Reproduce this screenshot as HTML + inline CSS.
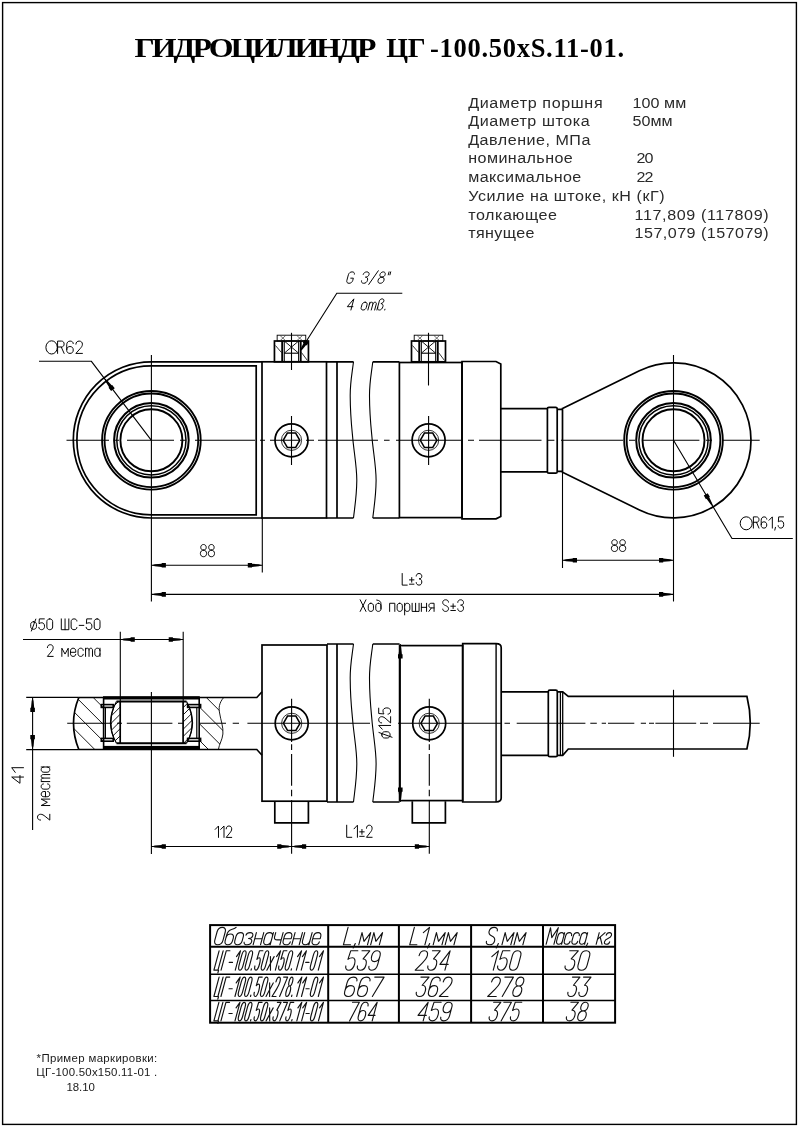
<!DOCTYPE html>
<html><head><meta charset="utf-8"><title>ГИДРОЦИЛИНДР ЦГ-100.50xS.11-01</title>
<style>
html,body{margin:0;padding:0;background:#fff;}
body{width:798px;height:1127px;position:relative;overflow:hidden;font-family:"Liberation Sans",sans-serif;}
svg{position:absolute;left:0;top:0;filter:grayscale(1);}
.tt{font-family:"Liberation Serif",serif;font-weight:bold;font-size:26.5px;fill:#000;}
.sp{font-family:"Liberation Sans",sans-serif;font-size:15.2px;fill:#2a2a2a;}
.ft{font-family:"Liberation Sans",sans-serif;font-size:10.4px;fill:#1a1a1a;}
</style></head><body>
<svg width="798" height="1127" viewBox="0 0 798 1127">
<rect x="0" y="0" width="798" height="1127" fill="#fff"/>
<rect x="2.60" y="2.60" width="793.80" height="1121.80" fill="none" stroke="#000" stroke-width="1.4"/>
<path d="M262,361.8 H151.4 A78.1,78.1 0 0 0 151.4,518.0 H262" fill="none" stroke="#000" stroke-width="1.7" stroke-linejoin="miter"/>
<path d="M256.2,365.8 H151.4 A74.5,74.5 0 0 0 151.4,514.8 H256.2 Z" fill="none" stroke="#000" stroke-width="1.7" stroke-linejoin="miter"/>
<circle cx="151.40" cy="440.30" r="49.30" fill="none" stroke="#000" stroke-width="1.9"/>
<circle cx="151.40" cy="440.30" r="46.80" fill="none" stroke="#000" stroke-width="1.8"/>
<circle cx="151.40" cy="440.30" r="37.30" fill="none" stroke="#000" stroke-width="2.0"/>
<circle cx="151.40" cy="440.30" r="34.60" fill="none" stroke="#000" stroke-width="1.5"/>
<circle cx="151.40" cy="440.30" r="31.00" fill="none" stroke="#000" stroke-width="1.9"/>
<circle cx="673.50" cy="440.30" r="49.30" fill="none" stroke="#000" stroke-width="1.9"/>
<circle cx="673.50" cy="440.30" r="46.80" fill="none" stroke="#000" stroke-width="1.8"/>
<circle cx="673.50" cy="440.30" r="37.30" fill="none" stroke="#000" stroke-width="2.0"/>
<circle cx="673.50" cy="440.30" r="34.60" fill="none" stroke="#000" stroke-width="1.5"/>
<circle cx="673.50" cy="440.30" r="31.00" fill="none" stroke="#000" stroke-width="1.9"/>
<rect x="262.00" y="361.80" width="64.50" height="156.20" fill="none" stroke="#000" stroke-width="1.7"/>
<path d="M326.5,361.8 H353.5 M326.5,518.0 H353.5 M337,361.8 V518.0" fill="none" stroke="#000" stroke-width="1.7" stroke-linejoin="miter"/>
<path d="M353.5,361.8 C352.0,374.296 350.1,382.106 350.2,396.164 C350.3,418.032 352.3,432.09000000000003 352.9,439.9 C354.5,455.52 356.9,468.016 356.8,480.512 C356.7,496.132 354.5,508.628 353.5,518.0" fill="none" stroke="#000" stroke-width="1.1" stroke-linejoin="miter"/>
<path d="M372.8,361.8 C371.3,374.296 369.40000000000003,382.106 369.5,396.164 C369.6,418.032 371.6,432.09000000000003 372.2,439.9 C373.8,455.52 376.2,468.016 376.1,480.512 C376.0,496.132 373.8,508.628 372.8,518.0" fill="none" stroke="#000" stroke-width="1.1" stroke-linejoin="miter"/>
<path d="M372.8,361.8 H399.4 M372.8,518.0 H399.4" fill="none" stroke="#000" stroke-width="1.7" stroke-linejoin="miter"/>
<rect x="399.40" y="362.50" width="62.60" height="155.10" fill="none" stroke="#000" stroke-width="1.7"/>
<path d="M462,361.5 H496 L500.8,364 V516.4 L496,518.8 H462 Z" fill="none" stroke="#000" stroke-width="1.7" stroke-linejoin="miter"/>
<path d="M500.8,408.7 H547.4 M500.8,471.9 H547.4" fill="none" stroke="#000" stroke-width="1.7" stroke-linejoin="miter"/>
<path d="M547.4,408.8 Q547.4,407.3 548.9,407.3 H555.7 Q557.2,407.3 557.2,408.8 V471.7 Q557.2,473.2 555.7,473.2 H548.9 Q547.4,473.2 547.4,471.7 Z" fill="none" stroke="#000" stroke-width="1.7" stroke-linejoin="miter"/>
<path d="M557.2,409.4 H562.5 M557.2,471.3 H562.5" fill="none" stroke="#000" stroke-width="1.7" stroke-linejoin="miter"/>
<path d="M562.5,408.4 L639.39,370.71 A77.5,77.5 0 1 1 639.46,509.93 L562.5,472.3 Z" fill="none" stroke="#000" stroke-width="1.7" stroke-linejoin="miter"/>
<rect x="274.45" y="341.00" width="34.00" height="20.80" fill="none" stroke="#000" stroke-width="1.7"/>
<rect x="277.15" y="335.20" width="28.60" height="5.80" fill="none" stroke="#000" stroke-width="0.9"/>
<line x1="282.15" y1="341.00" x2="282.15" y2="361.80" stroke="#000" stroke-width="1.8" stroke-linecap="butt"/>
<line x1="300.75" y1="341.00" x2="300.75" y2="361.80" stroke="#000" stroke-width="1.8" stroke-linecap="butt"/>
<line x1="284.25" y1="341.00" x2="284.25" y2="361.80" stroke="#000" stroke-width="1.1" stroke-linecap="butt"/>
<line x1="298.65" y1="341.00" x2="298.65" y2="361.80" stroke="#000" stroke-width="1.1" stroke-linecap="butt"/>
<line x1="284.25" y1="353.20" x2="298.65" y2="353.20" stroke="#000" stroke-width="1.1" stroke-linecap="butt"/>
<path d="M284.25,341 L298.65,353.2 M298.65,341 L284.25,353.2" fill="none" stroke="#000" stroke-width="0.9" stroke-linejoin="miter"/>
<path d="M280.15,335.6 L285.54999999999995,340.6 M285.54999999999995,335.6 L280.15,340.6" fill="none" stroke="#333" stroke-width="0.7" stroke-linejoin="miter"/>
<path d="M296.95,335.6 L302.34999999999997,340.6 M302.34999999999997,335.6 L296.95,340.6" fill="none" stroke="#333" stroke-width="0.7" stroke-linejoin="miter"/>
<path d="M275.45,345.5 L281.45,352.5 M301.45,352.5 L307.45,360.5" fill="none" stroke="#000" stroke-width="0.8" stroke-linejoin="miter"/>
<rect x="411.50" y="341.00" width="34.00" height="20.80" fill="none" stroke="#000" stroke-width="1.7"/>
<rect x="414.20" y="335.20" width="28.60" height="5.80" fill="none" stroke="#000" stroke-width="0.9"/>
<line x1="419.20" y1="341.00" x2="419.20" y2="361.80" stroke="#000" stroke-width="1.8" stroke-linecap="butt"/>
<line x1="437.80" y1="341.00" x2="437.80" y2="361.80" stroke="#000" stroke-width="1.8" stroke-linecap="butt"/>
<line x1="421.30" y1="341.00" x2="421.30" y2="361.80" stroke="#000" stroke-width="1.1" stroke-linecap="butt"/>
<line x1="435.70" y1="341.00" x2="435.70" y2="361.80" stroke="#000" stroke-width="1.1" stroke-linecap="butt"/>
<line x1="421.30" y1="353.20" x2="435.70" y2="353.20" stroke="#000" stroke-width="1.1" stroke-linecap="butt"/>
<path d="M421.3,341 L435.7,353.2 M435.7,341 L421.3,353.2" fill="none" stroke="#000" stroke-width="0.9" stroke-linejoin="miter"/>
<path d="M417.2,335.6 L422.59999999999997,340.6 M422.59999999999997,335.6 L417.2,340.6" fill="none" stroke="#333" stroke-width="0.7" stroke-linejoin="miter"/>
<path d="M434.0,335.6 L439.4,340.6 M439.4,335.6 L434.0,340.6" fill="none" stroke="#333" stroke-width="0.7" stroke-linejoin="miter"/>
<path d="M412.5,345.5 L418.5,352.5 M438.5,352.5 L444.5,360.5" fill="none" stroke="#000" stroke-width="0.8" stroke-linejoin="miter"/>
<circle cx="291.50" cy="440.30" r="16.50" fill="none" stroke="#000" stroke-width="1.7"/>
<circle cx="291.50" cy="440.30" r="10.10" fill="none" stroke="#000" stroke-width="0.8"/>
<polygon points="299.80,440.30 295.65,447.49 287.35,447.49 283.20,440.30 287.35,433.11 295.65,433.11" fill="none" stroke="#000" stroke-width="1.5"/>
<circle cx="428.60" cy="440.30" r="16.50" fill="none" stroke="#000" stroke-width="1.7"/>
<circle cx="428.60" cy="440.30" r="10.10" fill="none" stroke="#000" stroke-width="0.8"/>
<polygon points="436.90,440.30 432.75,447.49 424.45,447.49 420.30,440.30 424.45,433.11 432.75,433.11" fill="none" stroke="#000" stroke-width="1.5"/>
<line x1="291.50" y1="416.00" x2="291.50" y2="465.00" stroke="#000" stroke-width="1.1" stroke-linecap="butt"/>
<line x1="428.60" y1="416.00" x2="428.60" y2="465.00" stroke="#000" stroke-width="1.1" stroke-linecap="butt"/>
<line x1="291.50" y1="332.80" x2="291.50" y2="370.00" stroke="#000" stroke-width="1.1" stroke-linecap="butt"/>
<line x1="428.50" y1="332.80" x2="428.50" y2="385.50" stroke="#000" stroke-width="1.1" stroke-linecap="butt"/>
<path d="M66.5,440.3 H109 M114,440.3 H119 M127,440.3 H174 M180,440.3 H186 M195,440.3 H255 M260,440.3 H265 M270,440.3 H300 M306,440.3 H314 M318,440.3 H378 M384,440.3 H389.6 M396,440.3 H461 M468,440.3 H474 M479,440.3 H541.5 M548,440.3 H554.4 M561,440.3 H623 M629,440.3 H635 M642.4,440.3 H699.4 M706,440.3 H712 M722,440.3 H759.7" fill="none" stroke="#000" stroke-width="1.1" stroke-linejoin="miter"/>
<line x1="151.40" y1="355.00" x2="151.40" y2="601.50" stroke="#000" stroke-width="1.1" stroke-linecap="butt"/>
<line x1="673.50" y1="355.00" x2="673.50" y2="601.50" stroke="#000" stroke-width="1.1" stroke-linecap="butt"/>
<path d="M39,361.3 H91.4 L151.4,440.3" fill="none" stroke="#000" stroke-width="1.1" stroke-linejoin="miter"/>
<polygon points="104.47,378.50 107.04,380.32 111.67,385.34 112.22,384.92 114.76,388.26 111.10,391.04 108.56,387.70 109.12,387.27 105.52,381.47" fill="#000"/>
<ellipse cx="51.6" cy="347.4" rx="5.7" ry="6.6" fill="none" stroke="#000" stroke-width="1"/>
<g transform="translate(57.59,353.41) rotate(0) translate(0.00,0) scale(1.3063,1.2320) translate(0,-10)" fill="none" stroke="#000" stroke-width="0.98" stroke-linecap="round" stroke-linejoin="round" style="vector-effect:non-scaling-stroke"><path vector-effect="non-scaling-stroke" transform="translate(0.000,0)" d="M0,10 V0 H3 C4.2,0 5,1 5,2.4 C5,3.8 4.2,4.8 3,4.8 H0 M2.8,4.8 L5,10"/><path vector-effect="non-scaling-stroke" transform="translate(7.000,0)" d="M5,2 C5,0.8 4,0 2.6,0 C1,0 0,1.2 0,3 V7.5 C0,9 1,10 2.5,10 C4,10 5,9 5,7.2 C5,5.4 4,4.4 2.5,4.4 C1,4.4 0,5.4 0,7"/><path vector-effect="non-scaling-stroke" transform="translate(14.000,0)" d="M0,2.5 C0,1 1,0 2.5,0 C4,0 5,1 5,2.5 C5,4 4.2,5 3.2,6.2 L0,10 H5"/></g>
<path d="M792.8,538.5 H732 L673.5,440.3" fill="none" stroke="#000" stroke-width="1.1" stroke-linejoin="miter"/>
<polygon points="712.91,506.45 710.56,504.36 706.52,498.85 705.92,499.21 703.77,495.60 707.72,493.25 709.87,496.86 709.27,497.21 712.19,503.39" fill="#000"/>
<ellipse cx="746.2" cy="523.3" rx="6.0" ry="6.5" fill="none" stroke="#000" stroke-width="1"/>
<g transform="translate(753.39,528.11) rotate(0) translate(0.00,0) scale(1.1147,1.1220) translate(0,-10)" fill="none" stroke="#000" stroke-width="0.98" stroke-linecap="round" stroke-linejoin="round" style="vector-effect:non-scaling-stroke"><path vector-effect="non-scaling-stroke" transform="translate(0.000,0)" d="M0,10 V0 H3 C4.2,0 5,1 5,2.4 C5,3.8 4.2,4.8 3,4.8 H0 M2.8,4.8 L5,10"/><path vector-effect="non-scaling-stroke" transform="translate(7.000,0)" d="M5,2 C5,0.8 4,0 2.6,0 C1,0 0,1.2 0,3 V7.5 C0,9 1,10 2.5,10 C4,10 5,9 5,7.2 C5,5.4 4,4.4 2.5,4.4 C1,4.4 0,5.4 0,7"/><path vector-effect="non-scaling-stroke" transform="translate(14.000,0)" d="M0,3 L3,0 V10"/><path vector-effect="non-scaling-stroke" transform="translate(19.000,0)" d="M0.8,9.3 L0.2,11.8"/><path vector-effect="non-scaling-stroke" transform="translate(22.200,0)" d="M4.8,0 H0.5 L0.2,4.4 C1,3.8 1.8,3.6 2.7,3.6 C4,3.6 5,4.8 5,6.8 C5,8.8 4,10 2.5,10 C1,10 0,9 0,7.8"/></g>
<path d="M402.3,293.3 H336.8 L304.4,344.2" fill="none" stroke="#000" stroke-width="1.1" stroke-linejoin="miter"/>
<polygon points="300.23,351.24 300.82,348.55 303.43,343.25 302.75,342.82 304.70,339.77 308.75,342.35 306.80,345.41 306.13,344.98 302.42,349.57" fill="#000"/>
<g transform="translate(346.09,283.31) rotate(0) translate(0.00,0) skewX(-15) scale(1.1770,1.1420) translate(0,-10)" fill="none" stroke="#000" stroke-width="0.98" stroke-linecap="round" stroke-linejoin="round" style="vector-effect:non-scaling-stroke"><path vector-effect="non-scaling-stroke" transform="translate(0.000,0)" d="M5,2 C5,0.8 4,0 2.5,0 C1,0 0,1 0,2.5 V7.5 C0,9 1,10 2.5,10 C4,10 5,9 5,7.5 V5.5 H2.8"/><path vector-effect="non-scaling-stroke" transform="translate(12.500,0)" d="M0,2.2 C0,1 1,0 2.5,0 C4,0 5,1 5,2.4 C5,3.8 4,4.6 2.5,4.6 C4,4.6 5,5.6 5,7.3 C5,9 4,10 2.5,10 C1,10 0,9 0,7.8"/><path vector-effect="non-scaling-stroke" transform="translate(19.500,0)" d="M0,11 L5,-1"/><path vector-effect="non-scaling-stroke" transform="translate(26.500,0)" d="M2.5,4.6 C1,4.6 0.3,3.6 0.3,2.3 C0.3,1 1.2,0 2.5,0 C3.8,0 4.7,1 4.7,2.3 C4.7,3.6 4,4.6 2.5,4.6 C4,4.6 5,5.8 5,7.3 C5,9 4,10 2.5,10 C1,10 0,9 0,7.3 C0,5.8 1,4.6 2.5,4.6 Z"/><path vector-effect="non-scaling-stroke" transform="translate(33.500,0)" d="M0.4,0 V2.6 M1.8,0 V2.6"/></g>
<g transform="translate(346.39,310.01) rotate(0) translate(0.00,0) skewX(-15) scale(1.1308,1.1120) translate(0,-10)" fill="none" stroke="#000" stroke-width="0.98" stroke-linecap="round" stroke-linejoin="round" style="vector-effect:non-scaling-stroke"><path vector-effect="non-scaling-stroke" transform="translate(0.000,0)" d="M4,10 V0 L0,7 H5"/><path vector-effect="non-scaling-stroke" transform="translate(12.500,0)" d="M2.25,3 C3.6,3 4.5,3.9 4.5,5.2 V7.8 C4.5,9.1 3.6,10 2.25,10 C0.9,10 0,9.1 0,7.8 V5.2 C0,3.9 0.9,3 2.25,3 Z"/><path vector-effect="non-scaling-stroke" transform="translate(19.000,0)" d="M0,10 V3 M0,4.6 C0,3.6 0.6,3 1.5,3 C2.4,3 3,3.6 3,4.6 V10 M3,4.6 C3,3.6 3.6,3 4.5,3 C5.4,3 6,3.6 6,4.6 V10"/><path vector-effect="non-scaling-stroke" transform="translate(27.000,0)" d="M0,10 V2 C0,0.8 0.8,0 2,0 C3.2,0 4,0.8 4,2 C4,3.2 3.2,4 2,4.2 C3.5,4.4 4.5,5.4 4.5,7 C4.5,8.8 3.6,10 2.25,10 C0.9,10 0,9 0,7.5"/><path vector-effect="non-scaling-stroke" transform="translate(33.500,0)" d="M0.4,9.3 V10"/></g>
<line x1="262.30" y1="518.00" x2="262.30" y2="572.60" stroke="#000" stroke-width="1.1" stroke-linecap="butt"/>
<line x1="562.50" y1="472.30" x2="562.50" y2="568.00" stroke="#000" stroke-width="1.1" stroke-linecap="butt"/>
<line x1="151.40" y1="565.30" x2="262.30" y2="565.30" stroke="#000" stroke-width="1.1" stroke-linecap="butt"/>
<polygon points="151.90,565.30 154.90,564.35 161.70,563.70 161.70,563.00 165.90,563.00 165.90,567.60 161.70,567.60 161.70,566.90 154.90,566.25" fill="#000"/>
<polygon points="261.80,565.30 258.80,566.25 252.00,566.90 252.00,567.60 247.80,567.60 247.80,563.00 252.00,563.00 252.00,563.70 258.80,564.35" fill="#000"/>
<g transform="translate(200.39,556.71) rotate(0) translate(0.00,0) scale(1.2386,1.2220) translate(0,-10)" fill="none" stroke="#000" stroke-width="0.98" stroke-linecap="round" stroke-linejoin="round" style="vector-effect:non-scaling-stroke"><path vector-effect="non-scaling-stroke" transform="translate(0.000,0)" d="M2.5,4.6 C1,4.6 0.3,3.6 0.3,2.3 C0.3,1 1.2,0 2.5,0 C3.8,0 4.7,1 4.7,2.3 C4.7,3.6 4,4.6 2.5,4.6 C4,4.6 5,5.8 5,7.3 C5,9 4,10 2.5,10 C1,10 0,9 0,7.3 C0,5.8 1,4.6 2.5,4.6 Z"/><path vector-effect="non-scaling-stroke" transform="translate(6.400,0)" d="M2.5,4.6 C1,4.6 0.3,3.6 0.3,2.3 C0.3,1 1.2,0 2.5,0 C3.8,0 4.7,1 4.7,2.3 C4.7,3.6 4,4.6 2.5,4.6 C4,4.6 5,5.8 5,7.3 C5,9 4,10 2.5,10 C1,10 0,9 0,7.3 C0,5.8 1,4.6 2.5,4.6 Z"/></g>
<line x1="562.50" y1="560.20" x2="673.50" y2="560.20" stroke="#000" stroke-width="1.1" stroke-linecap="butt"/>
<polygon points="563.00,560.20 566.00,559.25 572.80,558.60 572.80,557.90 577.00,557.90 577.00,562.50 572.80,562.50 572.80,561.80 566.00,561.15" fill="#000"/>
<polygon points="673.00,560.20 670.00,561.15 663.20,561.80 663.20,562.50 659.00,562.50 659.00,557.90 663.20,557.90 663.20,558.60 670.00,559.25" fill="#000"/>
<g transform="translate(611.39,551.51) rotate(0) translate(0.00,0) scale(1.2561,1.1820) translate(0,-10)" fill="none" stroke="#000" stroke-width="0.98" stroke-linecap="round" stroke-linejoin="round" style="vector-effect:non-scaling-stroke"><path vector-effect="non-scaling-stroke" transform="translate(0.000,0)" d="M2.5,4.6 C1,4.6 0.3,3.6 0.3,2.3 C0.3,1 1.2,0 2.5,0 C3.8,0 4.7,1 4.7,2.3 C4.7,3.6 4,4.6 2.5,4.6 C4,4.6 5,5.8 5,7.3 C5,9 4,10 2.5,10 C1,10 0,9 0,7.3 C0,5.8 1,4.6 2.5,4.6 Z"/><path vector-effect="non-scaling-stroke" transform="translate(6.400,0)" d="M2.5,4.6 C1,4.6 0.3,3.6 0.3,2.3 C0.3,1 1.2,0 2.5,0 C3.8,0 4.7,1 4.7,2.3 C4.7,3.6 4,4.6 2.5,4.6 C4,4.6 5,5.8 5,7.3 C5,9 4,10 2.5,10 C1,10 0,9 0,7.3 C0,5.8 1,4.6 2.5,4.6 Z"/></g>
<line x1="151.40" y1="594.40" x2="673.50" y2="594.40" stroke="#000" stroke-width="1.1" stroke-linecap="butt"/>
<polygon points="151.90,594.40 154.90,593.45 161.70,592.80 161.70,592.10 165.90,592.10 165.90,596.70 161.70,596.70 161.70,596.00 154.90,595.35" fill="#000"/>
<polygon points="673.00,594.40 670.00,595.35 663.20,596.00 663.20,596.70 659.00,596.70 659.00,592.10 663.20,592.10 663.20,592.80 670.00,593.45" fill="#000"/>
<g transform="translate(402.19,585.11) rotate(0) translate(0.00,0) scale(1.1211,1.1620) translate(0,-10)" fill="none" stroke="#000" stroke-width="0.98" stroke-linecap="round" stroke-linejoin="round" style="vector-effect:non-scaling-stroke"><path vector-effect="non-scaling-stroke" transform="translate(0.000,0)" d="M0,0 V10 H4.5"/><path vector-effect="non-scaling-stroke" transform="translate(6.500,0)" d="M0,5.5 H4 M2,3.5 V7.5 M0,9.2 H4"/><path vector-effect="non-scaling-stroke" transform="translate(12.500,0)" d="M0,2.2 C0,1 1,0 2.5,0 C4,0 5,1 5,2.4 C5,3.8 4,4.6 2.5,4.6 C4,4.6 5,5.6 5,7.3 C5,9 4,10 2.5,10 C1,10 0,9 0,7.8"/></g>
<g transform="translate(360.19,611.41) rotate(0) translate(0.00,0) scale(1.1544,1.1620) translate(0,-10)" fill="none" stroke="#000" stroke-width="0.98" stroke-linecap="round" stroke-linejoin="round" style="vector-effect:non-scaling-stroke"><path vector-effect="non-scaling-stroke" transform="translate(0.000,0)" d="M0,0 L5,10 M5,0 L0,10"/><path vector-effect="non-scaling-stroke" transform="translate(7.000,0)" d="M2.25,3 C3.6,3 4.5,3.9 4.5,5.2 V7.8 C4.5,9.1 3.6,10 2.25,10 C0.9,10 0,9.1 0,7.8 V5.2 C0,3.9 0.9,3 2.25,3 Z"/><path vector-effect="non-scaling-stroke" transform="translate(13.500,0)" d="M2.25,3 C3.6,3 4.5,3.9 4.5,5.2 V7.8 C4.5,9.1 3.6,10 2.25,10 C0.9,10 0,9.1 0,7.8 V5.2 C0,3.9 0.9,3 2.25,3 Z M4.5,7.8 V3.5 C4.5,1.5 3.2,0.5 0.8,0.2"/><path vector-effect="non-scaling-stroke" transform="translate(25.500,0)" d="M0,10 V3 H4.5 V10"/><path vector-effect="non-scaling-stroke" transform="translate(32.000,0)" d="M2.25,3 C3.6,3 4.5,3.9 4.5,5.2 V7.8 C4.5,9.1 3.6,10 2.25,10 C0.9,10 0,9.1 0,7.8 V5.2 C0,3.9 0.9,3 2.25,3 Z"/><path vector-effect="non-scaling-stroke" transform="translate(38.500,0)" d="M0,13 V3 M0,5.2 C0,3.9 0.9,3 2.25,3 C3.6,3 4.5,3.9 4.5,5.2 V7.8 C4.5,9.1 3.6,10 2.25,10 C0.9,10 0,9.1 0,7.8"/><path vector-effect="non-scaling-stroke" transform="translate(45.000,0)" d="M0,3 V10 H6 V3 M3,3 V10"/><path vector-effect="non-scaling-stroke" transform="translate(53.000,0)" d="M0,3 V10 M4.5,3 V10 M0,6.5 H4.5"/><path vector-effect="non-scaling-stroke" transform="translate(59.500,0)" d="M4.5,10 V3 H2 C0.8,3 0,3.8 0,5 C0,6.2 0.8,7 2,7 H4.5 M2.2,7 L0,10"/><path vector-effect="non-scaling-stroke" transform="translate(71.500,0)" d="M5,2 C5,0.8 4,0 2.5,0 C1,0 0,0.9 0,2.3 C0,3.8 1,4.4 2.5,5 C4,5.6 5,6.3 5,7.7 C5,9.1 4,10 2.5,10 C1,10 0,9.2 0,8"/><path vector-effect="non-scaling-stroke" transform="translate(78.500,0)" d="M0,5.5 H4 M2,3.5 V7.5 M0,9.2 H4"/><path vector-effect="non-scaling-stroke" transform="translate(84.500,0)" d="M0,2.2 C0,1 1,0 2.5,0 C4,0 5,1 5,2.4 C5,3.8 4,4.6 2.5,4.6 C4,4.6 5,5.6 5,7.3 C5,9 4,10 2.5,10 C1,10 0,9 0,7.8"/></g>
<path d="M78.8,697.5 Q68.2,723.3 78.8,749.5" fill="none" stroke="#000" stroke-width="1.7" stroke-linejoin="miter"/>
<path d="M78.8,697.5 H256.8 L262,691.8 M78.8,749.5 H256.8 L262,755.2" fill="none" stroke="#000" stroke-width="1.6" stroke-linejoin="miter"/>
<rect x="103" y="696.2" width="96.8" height="3.3" fill="#000"/>
<rect x="103" y="745.9" width="96.8" height="3.4" fill="#000"/>
<line x1="103.60" y1="697.50" x2="103.60" y2="749.50" stroke="#000" stroke-width="1.6" stroke-linecap="butt"/>
<line x1="199.20" y1="697.50" x2="199.20" y2="749.50" stroke="#000" stroke-width="1.6" stroke-linecap="butt"/>
<rect x="101.30" y="704.60" width="11.90" height="2.80" fill="none" stroke="#000" stroke-width="1.6"/>
<rect x="101.30" y="738.40" width="11.90" height="2.80" fill="none" stroke="#000" stroke-width="1.6"/>
<rect x="187.60" y="704.60" width="13.00" height="2.80" fill="none" stroke="#000" stroke-width="1.6"/>
<rect x="187.60" y="738.40" width="13.00" height="2.80" fill="none" stroke="#000" stroke-width="1.6"/>
<line x1="105.40" y1="707.40" x2="105.40" y2="738.40" stroke="#000" stroke-width="1.2" stroke-linecap="butt"/>
<line x1="196.80" y1="707.40" x2="196.80" y2="738.40" stroke="#000" stroke-width="1.2" stroke-linecap="butt"/>
<path d="M116.5,701.5 H186.5 M116.5,743.3 H186.5" fill="none" stroke="#000" stroke-width="1.9" stroke-linejoin="miter"/>
<line x1="120.20" y1="701.50" x2="120.20" y2="743.30" stroke="#000" stroke-width="1.7" stroke-linecap="butt"/>
<line x1="183.10" y1="701.50" x2="183.10" y2="743.30" stroke="#000" stroke-width="1.7" stroke-linecap="butt"/>
<path d="M116.5,701.5 Q104.5,722.8 116.5,743.3" fill="none" stroke="#000" stroke-width="1.2" stroke-linejoin="miter"/>
<path d="M114.2,706 Q107.6,722.8 114.2,739.6" fill="none" stroke="#000" stroke-width="1.0" stroke-linejoin="miter"/>
<path d="M186.5,701.5 Q198.5,722.8 186.5,743.3" fill="none" stroke="#000" stroke-width="1.2" stroke-linejoin="miter"/>
<path d="M188.8,706 Q195.4,722.8 188.8,739.6" fill="none" stroke="#000" stroke-width="1.0" stroke-linejoin="miter"/>
<clipPath id="cl1"><path d="M116.5,701.5 Q104.5,722.8 116.5,743.3 H120.2 V701.5 Z"/></clipPath>
<clipPath id="cl2"><path d="M186.5,701.5 Q198.5,722.8 186.5,743.3 H183.1 V701.5 Z"/></clipPath>
<path d="M100,705.6 L125,680.6 M100,712.8 L125,687.8 M100,720.0 L125,695.0 M100,727.2 L125,702.2 M100,734.4 L125,709.4 M100,741.6 L125,716.6 M100,748.8 L125,723.8 M100,756.0 L125,731.0 M100,763.2 L125,738.2 M100,770.4 L125,745.4 M100,777.6 L125,752.6" stroke="#000" stroke-width="0.9" clip-path="url(#cl1)"/>
<path d="M178,705.6 L203,680.6 M178,712.8 L203,687.8 M178,720.0 L203,695.0 M178,727.2 L203,702.2 M178,734.4 L203,709.4 M178,741.6 L203,716.6 M178,748.8 L203,723.8 M178,756.0 L203,731.0 M178,763.2 L203,738.2 M178,770.4 L203,745.4 M178,777.6 L203,752.6" stroke="#000" stroke-width="0.9" clip-path="url(#cl2)"/>
<clipPath id="cl3"><path d="M78.8,697.5 Q68.2,723.3 78.8,749.5 H103.6 V697.5 Z"/></clipPath>
<path d="M93.2,697.5 L153.2,757.5 M76.4,697.5 L136.4,757.5 M59.6,697.5 L119.6,757.5 M42.8,697.5 L102.8,757.5 M26.0,697.5 L86.0,757.5" stroke="#000" stroke-width="0.9" clip-path="url(#cl3)"/>
<path d="M223.7,697.5 C219,703 218.6,708 219.6,713 C220.6,720 223.6,727 222.9,734 C222.3,740 219.2,744 218.4,749.5" fill="none" stroke="#000" stroke-width="0.9" stroke-linejoin="miter"/>
<clipPath id="cl4"><path d="M223.7,697.5 C219,703 218.6,708 219.6,713 C220.6,720 223.6,727 222.9,734 C222.3,740 219.2,744 218.4,749.5 H199.2 V697.5 Z"/></clipPath>
<path d="M206.3,697.5 L266.3,757.5 M189.9,697.5 L249.9,757.5 M173.2,697.5 L233.2,757.5 M156.5,697.5 L216.5,757.5" stroke="#000" stroke-width="0.9" clip-path="url(#cl4)"/>
<rect x="262.00" y="645.00" width="65.00" height="156.20" fill="none" stroke="#000" stroke-width="1.7"/>
<path d="M327,644 H353.5 M327,802 H353.5 M337,644 V802" fill="none" stroke="#000" stroke-width="1.7" stroke-linejoin="miter"/>
<path d="M353.5,644 C352.0,656.64 350.1,664.54 350.2,678.76 C350.3,700.88 352.3,715.1 352.9,723.0 C354.5,738.8 356.9,751.44 356.8,764.08 C356.7,779.88 354.5,792.52 353.5,802" fill="none" stroke="#000" stroke-width="1.1" stroke-linejoin="miter"/>
<path d="M372.8,644 C371.3,656.64 369.40000000000003,664.54 369.5,678.76 C369.6,700.88 371.6,715.1 372.2,723.0 C373.8,738.8 376.2,751.44 376.1,764.08 C376.0,779.88 373.8,792.52 372.8,802" fill="none" stroke="#000" stroke-width="1.1" stroke-linejoin="miter"/>
<path d="M372.8,644 H399.6 M372.8,802 H399.6" fill="none" stroke="#000" stroke-width="1.7" stroke-linejoin="miter"/>
<rect x="399.60" y="645.60" width="63.10" height="155.00" fill="none" stroke="#000" stroke-width="1.7"/>
<path d="M462.7,643.6 H496.1 Q501.2,643.6 501.2,647.5 V798.1 Q501.2,802 496.1,802 H462.7 Z" fill="none" stroke="#000" stroke-width="1.7" stroke-linejoin="miter"/>
<line x1="496.10" y1="643.60" x2="496.10" y2="802.00" stroke="#000" stroke-width="1.4" stroke-linecap="butt"/>
<path d="M501.2,691.8 H548.3 M501.2,755.3 H548.3" fill="none" stroke="#000" stroke-width="1.7" stroke-linejoin="miter"/>
<path d="M548.3,691.7 Q548.3,690.2 549.8,690.2 H555.8 Q557.3,690.2 557.3,691.7 V755.2 Q557.3,756.7 555.8,756.7 H549.8 Q548.3,756.7 548.3,755.2 Z" fill="none" stroke="#000" stroke-width="1.7" stroke-linejoin="miter"/>
<path d="M557.3,691.8 H562.7 L568.3,696.3 H746.9 Q753.6,723.3 746.9,749 H568.3 L562.7,755.3 H557.3" fill="none" stroke="#000" stroke-width="1.7" stroke-linejoin="miter"/>
<line x1="560.40" y1="691.80" x2="560.40" y2="755.30" stroke="#000" stroke-width="1.3" stroke-linecap="butt"/>
<line x1="562.70" y1="691.80" x2="562.70" y2="755.30" stroke="#000" stroke-width="1.3" stroke-linecap="butt"/>
<path d="M274.8,801.2 V822.9 H308.4 V801.2" fill="none" stroke="#000" stroke-width="1.7" stroke-linejoin="miter"/>
<path d="M412.3,801.2 V822.9 H445.4 V801.2" fill="none" stroke="#000" stroke-width="1.7" stroke-linejoin="miter"/>
<circle cx="291.70" cy="723.30" r="16.50" fill="none" stroke="#000" stroke-width="1.7"/>
<circle cx="291.70" cy="723.30" r="10.10" fill="none" stroke="#000" stroke-width="0.8"/>
<polygon points="300.00,723.30 295.85,730.49 287.55,730.49 283.40,723.30 287.55,716.11 295.85,716.11" fill="none" stroke="#000" stroke-width="1.5"/>
<circle cx="429.20" cy="723.30" r="16.50" fill="none" stroke="#000" stroke-width="1.7"/>
<circle cx="429.20" cy="723.30" r="10.10" fill="none" stroke="#000" stroke-width="0.8"/>
<polygon points="437.50,723.30 433.35,730.49 425.05,730.49 420.90,723.30 425.05,716.11 433.35,716.11" fill="none" stroke="#000" stroke-width="1.5"/>
<path d="M67.2,723.3 H112 M117,723.3 H122 M126.8,723.3 H172.4 M178,723.3 H184 M200,723.3 H226 M232.7,723.3 H239 M247.4,723.3 H370 M398,723.3 H502 M504.5,723.3 H510 M516.7,723.3 H585.4 M590.3,723.3 H596.8 M601.7,723.3 H606 M608,723.3 H634.3 M640.8,723.3 H646 M649,723.3 H654 M655.4,723.3 H696.2 M700,723.3 H708 M713,723.3 H759.7" fill="none" stroke="#000" stroke-width="1.1" stroke-linejoin="miter"/>
<path d="M291.6,698.8 V741.9 M291.6,744.3 V750 M291.6,753.9 V785.8 M291.6,789.8 V796.2 M291.6,800.2 V853.7" fill="none" stroke="#000" stroke-width="1.1" stroke-linejoin="miter"/>
<path d="M429.3,698.8 V741.9 M429.3,744.3 V750 M429.3,753.9 V785.8 M429.3,789.8 V796.2 M429.3,800.2 V853.7" fill="none" stroke="#000" stroke-width="1.1" stroke-linejoin="miter"/>
<line x1="151.40" y1="692.00" x2="151.40" y2="854.00" stroke="#000" stroke-width="1.1" stroke-linecap="butt"/>
<line x1="673.50" y1="689.80" x2="673.50" y2="756.80" stroke="#000" stroke-width="1.1" stroke-linecap="butt"/>
<line x1="23.00" y1="639.50" x2="183.20" y2="639.50" stroke="#000" stroke-width="1.1" stroke-linecap="butt"/>
<line x1="120.30" y1="631.80" x2="120.30" y2="701.00" stroke="#000" stroke-width="1.1" stroke-linecap="butt"/>
<line x1="183.20" y1="631.80" x2="183.20" y2="701.00" stroke="#000" stroke-width="1.1" stroke-linecap="butt"/>
<polygon points="120.80,639.50 123.80,638.55 130.60,637.90 130.60,637.20 134.80,637.20 134.80,641.80 130.60,641.80 130.60,641.10 123.80,640.45" fill="#000"/>
<polygon points="182.70,639.50 179.70,640.45 172.90,641.10 172.90,641.80 168.70,641.80 168.70,637.20 172.90,637.20 172.90,637.90 179.70,638.55" fill="#000"/>
<g transform="translate(30.69,629.71) rotate(0) translate(0.00,0) scale(1.1553,1.0820) translate(0,-10)" fill="none" stroke="#000" stroke-width="0.98" stroke-linecap="round" stroke-linejoin="round" style="vector-effect:non-scaling-stroke"><path vector-effect="non-scaling-stroke" transform="translate(0.000,0)" d="M2.5,2.6 C3.9,2.6 5,3.6 5,5 V7.2 C5,8.6 3.9,9.6 2.5,9.6 C1.1,9.6 0,8.6 0,7.2 V5 C0,3.6 1.1,2.6 2.5,2.6 Z M0.6,11.2 L4.4,0.2"/><path vector-effect="non-scaling-stroke" transform="translate(7.000,0)" d="M4.8,0 H0.5 L0.2,4.4 C1,3.8 1.8,3.6 2.7,3.6 C4,3.6 5,4.8 5,6.8 C5,8.8 4,10 2.5,10 C1,10 0,9 0,7.8"/><path vector-effect="non-scaling-stroke" transform="translate(14.000,0)" d="M2.5,0 C4,0 5,1 5,2.5 V7.5 C5,9 4,10 2.5,10 C1,10 0,9 0,7.5 V2.5 C0,1 1,0 2.5,0 Z"/><path vector-effect="non-scaling-stroke" transform="translate(26.500,0)" d="M0,0 V10 H6.5 V0 M3.25,0 V10"/><path vector-effect="non-scaling-stroke" transform="translate(35.000,0)" d="M5,2 C5,0.8 4,0 2.5,0 C1,0 0,1 0,2.5 V7.5 C0,9 1,10 2.5,10 C4,10 5,9.2 5,8"/><path vector-effect="non-scaling-stroke" transform="translate(42.000,0)" d="M0,6 H4"/><path vector-effect="non-scaling-stroke" transform="translate(48.000,0)" d="M4.8,0 H0.5 L0.2,4.4 C1,3.8 1.8,3.6 2.7,3.6 C4,3.6 5,4.8 5,6.8 C5,8.8 4,10 2.5,10 C1,10 0,9 0,7.8"/><path vector-effect="non-scaling-stroke" transform="translate(55.000,0)" d="M2.5,0 C4,0 5,1 5,2.5 V7.5 C5,9 4,10 2.5,10 C1,10 0,9 0,7.5 V2.5 C0,1 1,0 2.5,0 Z"/></g>
<g transform="translate(47.39,656.41) rotate(0) translate(0.00,0) scale(1.1565,1.1720) translate(0,-10)" fill="none" stroke="#000" stroke-width="0.98" stroke-linecap="round" stroke-linejoin="round" style="vector-effect:non-scaling-stroke"><path vector-effect="non-scaling-stroke" transform="translate(0.000,0)" d="M0,2.5 C0,1 1,0 2.5,0 C4,0 5,1 5,2.5 C5,4 4.2,5 3.2,6.2 L0,10 H5"/><path vector-effect="non-scaling-stroke" transform="translate(12.500,0)" d="M0,10 V3 L2.75,8 L5.5,3 V10"/><path vector-effect="non-scaling-stroke" transform="translate(20.000,0)" d="M0,6.5 H4.5 V5.2 C4.5,3.9 3.6,3 2.25,3 C0.9,3 0,3.9 0,5.2 V7.8 C0,9.1 0.9,10 2.25,10 C3.6,10 4.5,9.3 4.5,8.3"/><path vector-effect="non-scaling-stroke" transform="translate(26.500,0)" d="M4.5,4.8 C4.5,3.7 3.6,3 2.25,3 C0.9,3 0,3.9 0,5.2 V7.8 C0,9.1 0.9,10 2.25,10 C3.6,10 4.5,9.3 4.5,8.2"/><path vector-effect="non-scaling-stroke" transform="translate(33.000,0)" d="M0,10 V3 M0,4.6 C0,3.6 0.6,3 1.5,3 C2.4,3 3,3.6 3,4.6 V10 M3,4.6 C3,3.6 3.6,3 4.5,3 C5.4,3 6,3.6 6,4.6 V10"/><path vector-effect="non-scaling-stroke" transform="translate(41.000,0)" d="M4.5,3 V10 M4.5,5.2 C4.5,3.9 3.6,3 2.25,3 C0.9,3 0,3.9 0,5.2 V7.8 C0,9.1 0.9,10 2.25,10 C3.6,10 4.5,9.1 4.5,7.8"/></g>
<line x1="26.20" y1="697.40" x2="78.80" y2="697.40" stroke="#000" stroke-width="1.1" stroke-linecap="butt"/>
<line x1="26.20" y1="749.60" x2="78.80" y2="749.60" stroke="#000" stroke-width="1.1" stroke-linecap="butt"/>
<line x1="32.60" y1="697.40" x2="32.60" y2="830.00" stroke="#000" stroke-width="1.1" stroke-linecap="butt"/>
<polygon points="32.60,697.90 33.55,700.90 34.20,707.70 34.90,707.70 34.90,711.90 30.30,711.90 30.30,707.70 31.00,707.70 31.65,700.90" fill="#000"/>
<polygon points="32.60,749.10 31.65,746.10 31.00,739.30 30.30,739.30 30.30,735.10 34.90,735.10 34.90,739.30 34.20,739.30 33.55,746.10" fill="#000"/>
<g transform="translate(23.51,783.31) rotate(-90) translate(0.00,0) scale(1.5620,1.1820) translate(0,-10)" fill="none" stroke="#000" stroke-width="0.98" stroke-linecap="round" stroke-linejoin="round" style="vector-effect:non-scaling-stroke"><path vector-effect="non-scaling-stroke" transform="translate(0.000,0)" d="M4,10 V0 L0,7 H5"/><path vector-effect="non-scaling-stroke" transform="translate(7.000,0)" d="M0,3 L3,0 V10"/></g>
<g transform="translate(49.81,820.11) rotate(-90) translate(0.00,0) scale(1.1675,1.2320) translate(0,-10)" fill="none" stroke="#000" stroke-width="0.98" stroke-linecap="round" stroke-linejoin="round" style="vector-effect:non-scaling-stroke"><path vector-effect="non-scaling-stroke" transform="translate(0.000,0)" d="M0,2.5 C0,1 1,0 2.5,0 C4,0 5,1 5,2.5 C5,4 4.2,5 3.2,6.2 L0,10 H5"/><path vector-effect="non-scaling-stroke" transform="translate(12.500,0)" d="M0,10 V3 L2.75,8 L5.5,3 V10"/><path vector-effect="non-scaling-stroke" transform="translate(20.000,0)" d="M0,6.5 H4.5 V5.2 C4.5,3.9 3.6,3 2.25,3 C0.9,3 0,3.9 0,5.2 V7.8 C0,9.1 0.9,10 2.25,10 C3.6,10 4.5,9.3 4.5,8.3"/><path vector-effect="non-scaling-stroke" transform="translate(26.500,0)" d="M4.5,4.8 C4.5,3.7 3.6,3 2.25,3 C0.9,3 0,3.9 0,5.2 V7.8 C0,9.1 0.9,10 2.25,10 C3.6,10 4.5,9.3 4.5,8.2"/><path vector-effect="non-scaling-stroke" transform="translate(33.000,0)" d="M0,10 V3 M0,4.6 C0,3.6 0.6,3 1.5,3 C2.4,3 3,3.6 3,4.6 V10 M3,4.6 C3,3.6 3.6,3 4.5,3 C5.4,3 6,3.6 6,4.6 V10"/><path vector-effect="non-scaling-stroke" transform="translate(41.000,0)" d="M4.5,3 V10 M4.5,5.2 C4.5,3.9 3.6,3 2.25,3 C0.9,3 0,3.9 0,5.2 V7.8 C0,9.1 0.9,10 2.25,10 C3.6,10 4.5,9.1 4.5,7.8"/></g>
<line x1="400.30" y1="644.00" x2="400.30" y2="802.00" stroke="#000" stroke-width="1.1" stroke-linecap="butt"/>
<polygon points="400.30,644.50 401.25,647.50 401.90,654.30 402.60,654.30 402.60,658.50 398.00,658.50 398.00,654.30 398.70,654.30 399.35,647.50" fill="#000"/>
<polygon points="400.30,801.50 399.35,798.50 398.70,791.70 398.00,791.70 398.00,787.50 402.60,787.50 402.60,791.70 401.90,791.70 401.25,798.50" fill="#000"/>
<g transform="translate(390.61,738.01) rotate(-90) translate(0.00,0) scale(1.2550,1.1920) translate(0,-10)" fill="none" stroke="#000" stroke-width="0.98" stroke-linecap="round" stroke-linejoin="round" style="vector-effect:non-scaling-stroke"><path vector-effect="non-scaling-stroke" transform="translate(0.000,0)" d="M2.5,2.6 C3.9,2.6 5,3.6 5,5 V7.2 C5,8.6 3.9,9.6 2.5,9.6 C1.1,9.6 0,8.6 0,7.2 V5 C0,3.6 1.1,2.6 2.5,2.6 Z M0.6,11.2 L4.4,0.2"/><path vector-effect="non-scaling-stroke" transform="translate(7.000,0)" d="M0,3 L3,0 V10"/><path vector-effect="non-scaling-stroke" transform="translate(12.000,0)" d="M0,2.5 C0,1 1,0 2.5,0 C4,0 5,1 5,2.5 C5,4 4.2,5 3.2,6.2 L0,10 H5"/><path vector-effect="non-scaling-stroke" transform="translate(19.000,0)" d="M4.8,0 H0.5 L0.2,4.4 C1,3.8 1.8,3.6 2.7,3.6 C4,3.6 5,4.8 5,6.8 C5,8.8 4,10 2.5,10 C1,10 0,9 0,7.8"/></g>
<line x1="151.40" y1="846.50" x2="429.30" y2="846.50" stroke="#000" stroke-width="1.1" stroke-linecap="butt"/>
<polygon points="151.90,846.50 154.90,845.55 161.70,844.90 161.70,844.20 165.90,844.20 165.90,848.80 161.70,848.80 161.70,848.10 154.90,847.45" fill="#000"/>
<polygon points="291.20,846.50 288.20,847.45 281.40,848.10 281.40,848.80 277.20,848.80 277.20,844.20 281.40,844.20 281.40,844.90 288.20,845.55" fill="#000"/>
<polygon points="292.20,846.50 295.20,845.55 302.00,844.90 302.00,844.20 306.20,844.20 306.20,848.80 302.00,848.80 302.00,848.10 295.20,847.45" fill="#000"/>
<polygon points="428.80,846.50 425.80,847.45 419.00,848.10 419.00,848.80 414.80,848.80 414.80,844.20 419.00,844.20 419.00,844.90 425.80,845.55" fill="#000"/>
<g transform="translate(215.19,837.41) rotate(0) translate(0.00,0) scale(1.1013,1.1420) translate(0,-10)" fill="none" stroke="#000" stroke-width="0.98" stroke-linecap="round" stroke-linejoin="round" style="vector-effect:non-scaling-stroke"><path vector-effect="non-scaling-stroke" transform="translate(0.000,0)" d="M0,3 L3,0 V10"/><path vector-effect="non-scaling-stroke" transform="translate(5.000,0)" d="M0,3 L3,0 V10"/><path vector-effect="non-scaling-stroke" transform="translate(10.000,0)" d="M0,2.5 C0,1 1,0 2.5,0 C4,0 5,1 5,2.5 C5,4 4.2,5 3.2,6.2 L0,10 H5"/></g>
<g transform="translate(346.69,837.31) rotate(0) translate(0.00,0) scale(1.1298,1.2120) translate(0,-10)" fill="none" stroke="#000" stroke-width="0.98" stroke-linecap="round" stroke-linejoin="round" style="vector-effect:non-scaling-stroke"><path vector-effect="non-scaling-stroke" transform="translate(0.000,0)" d="M0,0 V10 H4.5"/><path vector-effect="non-scaling-stroke" transform="translate(6.500,0)" d="M0,3 L3,0 V10"/><path vector-effect="non-scaling-stroke" transform="translate(11.500,0)" d="M0,5.5 H4 M2,3.5 V7.5 M0,9.2 H4"/><path vector-effect="non-scaling-stroke" transform="translate(17.500,0)" d="M0,2.5 C0,1 1,0 2.5,0 C4,0 5,1 5,2.5 C5,4 4.2,5 3.2,6.2 L0,10 H5"/></g>
<rect x="210.10" y="925.10" width="405.00" height="97.60" fill="none" stroke="#000" stroke-width="2.0"/>
<line x1="328.20" y1="925.10" x2="328.20" y2="1022.70" stroke="#000" stroke-width="2.0" stroke-linecap="butt"/>
<line x1="398.90" y1="925.10" x2="398.90" y2="1022.70" stroke="#000" stroke-width="2.0" stroke-linecap="butt"/>
<line x1="471.10" y1="925.10" x2="471.10" y2="1022.70" stroke="#000" stroke-width="2.0" stroke-linecap="butt"/>
<line x1="543.00" y1="925.10" x2="543.00" y2="1022.70" stroke="#000" stroke-width="2.0" stroke-linecap="butt"/>
<line x1="210.10" y1="946.70" x2="615.10" y2="946.70" stroke="#000" stroke-width="2.1" stroke-linecap="butt"/>
<line x1="210.10" y1="974.20" x2="615.10" y2="974.20" stroke="#000" stroke-width="1.6" stroke-linecap="butt"/>
<line x1="210.10" y1="1000.50" x2="615.10" y2="1000.50" stroke="#000" stroke-width="1.6" stroke-linecap="butt"/>
<g transform="translate(213.60,944.80) rotate(0) translate(0.00,0) skewX(-15) scale(1.6396,1.7400) translate(0,-10)" fill="none" stroke="#111" stroke-width="1.12" stroke-linecap="round" stroke-linejoin="round" style="vector-effect:non-scaling-stroke"><path vector-effect="non-scaling-stroke" transform="translate(0.000,0)" d="M2.5,0 C4,0 5,1 5,2.5 V7.5 C5,9 4,10 2.5,10 C1,10 0,9 0,7.5 V2.5 C0,1 1,0 2.5,0 Z"/><path vector-effect="non-scaling-stroke" transform="translate(6.400,0)" d="M4.5,0 C4,0.8 3,1 2,1.2 C0.8,1.5 0,2.5 0,4.5 V7.8 C0,9.1 0.9,10 2.25,10 C3.6,10 4.5,9.1 4.5,7.8 V6 C4.5,4.7 3.6,3.8 2.25,3.8 C0.9,3.8 0,4.7 0,6"/><path vector-effect="non-scaling-stroke" transform="translate(12.300,0)" d="M2.25,3 C3.6,3 4.5,3.9 4.5,5.2 V7.8 C4.5,9.1 3.6,10 2.25,10 C0.9,10 0,9.1 0,7.8 V5.2 C0,3.9 0.9,3 2.25,3 Z"/><path vector-effect="non-scaling-stroke" transform="translate(18.200,0)" d="M0,4.5 C0,3.6 0.9,3 2.1,3 C3.4,3 4.2,3.7 4.2,4.7 C4.2,5.8 3.4,6.4 2.1,6.4 C3.6,6.4 4.5,7.1 4.5,8.2 C4.5,9.3 3.6,10 2.2,10 C0.9,10 0,9.4 0,8.5"/><path vector-effect="non-scaling-stroke" transform="translate(24.100,0)" d="M0,3 V10 M4.5,3 V10 M0,6.5 H4.5"/><path vector-effect="non-scaling-stroke" transform="translate(30.000,0)" d="M4.5,3 V10 M4.5,5.2 C4.5,3.9 3.6,3 2.25,3 C0.9,3 0,3.9 0,5.2 V7.8 C0,9.1 0.9,10 2.25,10 C3.6,10 4.5,9.1 4.5,7.8"/><path vector-effect="non-scaling-stroke" transform="translate(35.900,0)" d="M0,3 V5.5 C0,6.6 0.8,7.2 2,7.2 H4.5 M4.5,3 V10"/><path vector-effect="non-scaling-stroke" transform="translate(41.800,0)" d="M0,6.5 H4.5 V5.2 C4.5,3.9 3.6,3 2.25,3 C0.9,3 0,3.9 0,5.2 V7.8 C0,9.1 0.9,10 2.25,10 C3.6,10 4.5,9.3 4.5,8.3"/><path vector-effect="non-scaling-stroke" transform="translate(47.700,0)" d="M0,3 V10 M4.5,3 V10 M0,6.5 H4.5"/><path vector-effect="non-scaling-stroke" transform="translate(53.600,0)" d="M0,3 V7.8 C0,9.1 0.9,10 2.25,10 C3.6,10 4.5,9.1 4.5,7.8 M4.5,3 V10"/><path vector-effect="non-scaling-stroke" transform="translate(59.500,0)" d="M0,6.5 H4.5 V5.2 C4.5,3.9 3.6,3 2.25,3 C0.9,3 0,3.9 0,5.2 V7.8 C0,9.1 0.9,10 2.25,10 C3.6,10 4.5,9.3 4.5,8.3"/></g>
<g transform="translate(343.40,944.80) rotate(0) translate(0.00,0) skewX(-15) scale(1.5831,1.7400) translate(0,-10)" fill="none" stroke="#111" stroke-width="1.12" stroke-linecap="round" stroke-linejoin="round" style="vector-effect:non-scaling-stroke"><path vector-effect="non-scaling-stroke" transform="translate(0.000,0)" d="M0,0 V10 H4.5"/><path vector-effect="non-scaling-stroke" transform="translate(6.500,0)" d="M0.8,9.3 L0.2,11.8"/><path vector-effect="non-scaling-stroke" transform="translate(9.700,0)" d="M0,10 V3 L2.75,8 L5.5,3 V10"/><path vector-effect="non-scaling-stroke" transform="translate(17.200,0)" d="M0,10 V3 L2.75,8 L5.5,3 V10"/></g>
<g transform="translate(409.70,944.80) rotate(0) translate(0.00,0) skewX(-15) scale(1.5970,1.7400) translate(0,-10)" fill="none" stroke="#111" stroke-width="1.12" stroke-linecap="round" stroke-linejoin="round" style="vector-effect:non-scaling-stroke"><path vector-effect="non-scaling-stroke" transform="translate(0.000,0)" d="M0,0 V10 H4.5"/><path vector-effect="non-scaling-stroke" transform="translate(6.500,0)" d="M0,3 L3,0 V10"/><path vector-effect="non-scaling-stroke" transform="translate(11.500,0)" d="M0.8,9.3 L0.2,11.8"/><path vector-effect="non-scaling-stroke" transform="translate(14.700,0)" d="M0,10 V3 L2.75,8 L5.5,3 V10"/><path vector-effect="non-scaling-stroke" transform="translate(22.200,0)" d="M0,10 V3 L2.75,8 L5.5,3 V10"/></g>
<g transform="translate(485.50,944.80) rotate(0) translate(0.00,0) skewX(-15) scale(1.6093,1.7400) translate(0,-10)" fill="none" stroke="#111" stroke-width="1.12" stroke-linecap="round" stroke-linejoin="round" style="vector-effect:non-scaling-stroke"><path vector-effect="non-scaling-stroke" transform="translate(0.000,0)" d="M5,2 C5,0.8 4,0 2.5,0 C1,0 0,0.9 0,2.3 C0,3.8 1,4.4 2.5,5 C4,5.6 5,6.3 5,7.7 C5,9.1 4,10 2.5,10 C1,10 0,9.2 0,8"/><path vector-effect="non-scaling-stroke" transform="translate(7.000,0)" d="M0.8,9.3 L0.2,11.8"/><path vector-effect="non-scaling-stroke" transform="translate(10.200,0)" d="M0,10 V3 L2.75,8 L5.5,3 V10"/><path vector-effect="non-scaling-stroke" transform="translate(17.700,0)" d="M0,10 V3 L2.75,8 L5.5,3 V10"/></g>
<g transform="translate(546.10,944.30) rotate(0) translate(0.00,0) skewX(-15) scale(1.3000,1.6600) translate(0,-10)" fill="none" stroke="#111" stroke-width="1.12" stroke-linecap="round" stroke-linejoin="round" style="vector-effect:non-scaling-stroke"><path vector-effect="non-scaling-stroke" transform="translate(0.000,0)" d="M0,10 V0 L3,6 L6,0 V10"/><path vector-effect="non-scaling-stroke" transform="translate(7.400,0)" d="M4.5,3 V10 M4.5,5.2 C4.5,3.9 3.6,3 2.25,3 C0.9,3 0,3.9 0,5.2 V7.8 C0,9.1 0.9,10 2.25,10 C3.6,10 4.5,9.1 4.5,7.8"/><path vector-effect="non-scaling-stroke" transform="translate(13.300,0)" d="M4.5,4.8 C4.5,3.7 3.6,3 2.25,3 C0.9,3 0,3.9 0,5.2 V7.8 C0,9.1 0.9,10 2.25,10 C3.6,10 4.5,9.3 4.5,8.2"/><path vector-effect="non-scaling-stroke" transform="translate(19.200,0)" d="M4.5,4.8 C4.5,3.7 3.6,3 2.25,3 C0.9,3 0,3.9 0,5.2 V7.8 C0,9.1 0.9,10 2.25,10 C3.6,10 4.5,9.3 4.5,8.2"/><path vector-effect="non-scaling-stroke" transform="translate(25.100,0)" d="M4.5,3 V10 M4.5,5.2 C4.5,3.9 3.6,3 2.25,3 C0.9,3 0,3.9 0,5.2 V7.8 C0,9.1 0.9,10 2.25,10 C3.6,10 4.5,9.1 4.5,7.8"/><path vector-effect="non-scaling-stroke" transform="translate(31.000,0)" d="M0.8,9.3 L0.2,11.8"/><path vector-effect="non-scaling-stroke" transform="translate(38.500,0)" d="M0,3 V10 M4.5,3 L0,7 M1.6,5.6 L4.5,10"/><path vector-effect="non-scaling-stroke" transform="translate(44.400,0)" d="M0,4.5 C0,3.5 0.8,3 2,3 C3.2,3 4,3.6 4,4.6 C4,5.5 3.4,6 2,6.5 C0.6,7 0,7.6 0,8.5 C0,9.5 0.8,10 2,10 C3.2,10 4,9.5 4,8.5"/></g>
<g transform="translate(213.90,970.20) rotate(0) translate(0.00,0) skewX(-15) scale(0.8129,1.9400) translate(0,-10)" fill="none" stroke="#111" stroke-width="1.15" stroke-linecap="round" stroke-linejoin="round" style="vector-effect:non-scaling-stroke"><path vector-effect="non-scaling-stroke" transform="translate(0.000,0)" d="M0,0 V10 H5 V0 M5,10 H5.8 V11.4"/><path vector-effect="non-scaling-stroke" transform="translate(8.800,0)" d="M0,10 V0 H4.5"/><path vector-effect="non-scaling-stroke" transform="translate(16.300,0)" d="M0,6 H4"/><path vector-effect="non-scaling-stroke" transform="translate(23.300,0)" d="M0,3 L3,0 V10"/><path vector-effect="non-scaling-stroke" transform="translate(29.300,0)" d="M2.5,0 C4,0 5,1 5,2.5 V7.5 C5,9 4,10 2.5,10 C1,10 0,9 0,7.5 V2.5 C0,1 1,0 2.5,0 Z"/><path vector-effect="non-scaling-stroke" transform="translate(37.300,0)" d="M2.5,0 C4,0 5,1 5,2.5 V7.5 C5,9 4,10 2.5,10 C1,10 0,9 0,7.5 V2.5 C0,1 1,0 2.5,0 Z"/><path vector-effect="non-scaling-stroke" transform="translate(45.300,0)" d="M0.4,9.3 V10"/><path vector-effect="non-scaling-stroke" transform="translate(49.100,0)" d="M4.8,0 H0.5 L0.2,4.4 C1,3.8 1.8,3.6 2.7,3.6 C4,3.6 5,4.8 5,6.8 C5,8.8 4,10 2.5,10 C1,10 0,9 0,7.8"/><path vector-effect="non-scaling-stroke" transform="translate(57.100,0)" d="M2.5,0 C4,0 5,1 5,2.5 V7.5 C5,9 4,10 2.5,10 C1,10 0,9 0,7.5 V2.5 C0,1 1,0 2.5,0 Z"/><path vector-effect="non-scaling-stroke" transform="translate(65.100,0)" d="M0,3 L4.5,10 M4.5,3 L0,10"/><path vector-effect="non-scaling-stroke" transform="translate(72.600,0)" d="M0,3 L3,0 V10"/><path vector-effect="non-scaling-stroke" transform="translate(78.600,0)" d="M4.8,0 H0.5 L0.2,4.4 C1,3.8 1.8,3.6 2.7,3.6 C4,3.6 5,4.8 5,6.8 C5,8.8 4,10 2.5,10 C1,10 0,9 0,7.8"/><path vector-effect="non-scaling-stroke" transform="translate(86.600,0)" d="M2.5,0 C4,0 5,1 5,2.5 V7.5 C5,9 4,10 2.5,10 C1,10 0,9 0,7.5 V2.5 C0,1 1,0 2.5,0 Z"/><path vector-effect="non-scaling-stroke" transform="translate(94.600,0)" d="M0.4,9.3 V10"/><path vector-effect="non-scaling-stroke" transform="translate(98.400,0)" d="M0,3 L3,0 V10"/><path vector-effect="non-scaling-stroke" transform="translate(104.400,0)" d="M0,3 L3,0 V10"/><path vector-effect="non-scaling-stroke" transform="translate(110.400,0)" d="M0,6 H4"/><path vector-effect="non-scaling-stroke" transform="translate(117.400,0)" d="M2.5,0 C4,0 5,1 5,2.5 V7.5 C5,9 4,10 2.5,10 C1,10 0,9 0,7.5 V2.5 C0,1 1,0 2.5,0 Z"/><path vector-effect="non-scaling-stroke" transform="translate(125.400,0)" d="M0,3 L3,0 V10"/></g>
<g transform="translate(344.70,970.20) rotate(0) translate(0.00,0) skewX(-15) scale(1.6569,1.9400) translate(0,-10)" fill="none" stroke="#111" stroke-width="1.12" stroke-linecap="round" stroke-linejoin="round" style="vector-effect:non-scaling-stroke"><path vector-effect="non-scaling-stroke" transform="translate(0.000,0)" d="M4.8,0 H0.5 L0.2,4.4 C1,3.8 1.8,3.6 2.7,3.6 C4,3.6 5,4.8 5,6.8 C5,8.8 4,10 2.5,10 C1,10 0,9 0,7.8"/><path vector-effect="non-scaling-stroke" transform="translate(7.000,0)" d="M0.3,0 H5 L2.3,4.2 C4,4.2 5,5.4 5,7.2 C5,9 4,10 2.5,10 C1,10 0,9 0,7.8"/><path vector-effect="non-scaling-stroke" transform="translate(14.000,0)" d="M0,8 C0,9.2 1,10 2.4,10 C4,10 5,8.8 5,7 V2.5 C5,1 4,0 2.5,0 C1,0 0,1 0,2.8 C0,4.6 1,5.6 2.5,5.6 C4,5.6 5,4.6 5,3"/></g>
<g transform="translate(415.20,970.20) rotate(0) translate(0.00,0) skewX(-15) scale(1.6516,1.9400) translate(0,-10)" fill="none" stroke="#111" stroke-width="1.12" stroke-linecap="round" stroke-linejoin="round" style="vector-effect:non-scaling-stroke"><path vector-effect="non-scaling-stroke" transform="translate(0.000,0)" d="M0,2.5 C0,1 1,0 2.5,0 C4,0 5,1 5,2.5 C5,4 4.2,5 3.2,6.2 L0,10 H5"/><path vector-effect="non-scaling-stroke" transform="translate(7.000,0)" d="M0.3,0 H5 L2.3,4.2 C4,4.2 5,5.4 5,7.2 C5,9 4,10 2.5,10 C1,10 0,9 0,7.8"/><path vector-effect="non-scaling-stroke" transform="translate(14.000,0)" d="M4,10 V0 L0,7 H5"/></g>
<g transform="translate(488.20,970.20) rotate(0) translate(0.00,0) skewX(-15) scale(1.6871,1.9400) translate(0,-10)" fill="none" stroke="#111" stroke-width="1.12" stroke-linecap="round" stroke-linejoin="round" style="vector-effect:non-scaling-stroke"><path vector-effect="non-scaling-stroke" transform="translate(0.000,0)" d="M0,3 L3,0 V10"/><path vector-effect="non-scaling-stroke" transform="translate(5.000,0)" d="M4.8,0 H0.5 L0.2,4.4 C1,3.8 1.8,3.6 2.7,3.6 C4,3.6 5,4.8 5,6.8 C5,8.8 4,10 2.5,10 C1,10 0,9 0,7.8"/><path vector-effect="non-scaling-stroke" transform="translate(12.000,0)" d="M2.5,0 C4,0 5,1 5,2.5 V7.5 C5,9 4,10 2.5,10 C1,10 0,9 0,7.5 V2.5 C0,1 1,0 2.5,0 Z"/></g>
<g transform="translate(564.00,970.20) rotate(0) translate(0.00,0) skewX(-15) scale(1.8151,1.9400) translate(0,-10)" fill="none" stroke="#111" stroke-width="1.12" stroke-linecap="round" stroke-linejoin="round" style="vector-effect:non-scaling-stroke"><path vector-effect="non-scaling-stroke" transform="translate(0.000,0)" d="M0.3,0 H5 L2.3,4.2 C4,4.2 5,5.4 5,7.2 C5,9 4,10 2.5,10 C1,10 0,9 0,7.8"/><path vector-effect="non-scaling-stroke" transform="translate(7.000,0)" d="M2.5,0 C4,0 5,1 5,2.5 V7.5 C5,9 4,10 2.5,10 C1,10 0,9 0,7.5 V2.5 C0,1 1,0 2.5,0 Z"/></g>
<g transform="translate(213.90,996.50) rotate(0) translate(0.00,0) skewX(-15) scale(0.8005,1.9400) translate(0,-10)" fill="none" stroke="#111" stroke-width="1.15" stroke-linecap="round" stroke-linejoin="round" style="vector-effect:non-scaling-stroke"><path vector-effect="non-scaling-stroke" transform="translate(0.000,0)" d="M0,0 V10 H5 V0 M5,10 H5.8 V11.4"/><path vector-effect="non-scaling-stroke" transform="translate(8.800,0)" d="M0,10 V0 H4.5"/><path vector-effect="non-scaling-stroke" transform="translate(16.300,0)" d="M0,6 H4"/><path vector-effect="non-scaling-stroke" transform="translate(23.300,0)" d="M0,3 L3,0 V10"/><path vector-effect="non-scaling-stroke" transform="translate(29.300,0)" d="M2.5,0 C4,0 5,1 5,2.5 V7.5 C5,9 4,10 2.5,10 C1,10 0,9 0,7.5 V2.5 C0,1 1,0 2.5,0 Z"/><path vector-effect="non-scaling-stroke" transform="translate(37.300,0)" d="M2.5,0 C4,0 5,1 5,2.5 V7.5 C5,9 4,10 2.5,10 C1,10 0,9 0,7.5 V2.5 C0,1 1,0 2.5,0 Z"/><path vector-effect="non-scaling-stroke" transform="translate(45.300,0)" d="M0.4,9.3 V10"/><path vector-effect="non-scaling-stroke" transform="translate(49.100,0)" d="M4.8,0 H0.5 L0.2,4.4 C1,3.8 1.8,3.6 2.7,3.6 C4,3.6 5,4.8 5,6.8 C5,8.8 4,10 2.5,10 C1,10 0,9 0,7.8"/><path vector-effect="non-scaling-stroke" transform="translate(57.100,0)" d="M2.5,0 C4,0 5,1 5,2.5 V7.5 C5,9 4,10 2.5,10 C1,10 0,9 0,7.5 V2.5 C0,1 1,0 2.5,0 Z"/><path vector-effect="non-scaling-stroke" transform="translate(65.100,0)" d="M0,3 L4.5,10 M4.5,3 L0,10"/><path vector-effect="non-scaling-stroke" transform="translate(72.600,0)" d="M0,2.5 C0,1 1,0 2.5,0 C4,0 5,1 5,2.5 C5,4 4.2,5 3.2,6.2 L0,10 H5"/><path vector-effect="non-scaling-stroke" transform="translate(80.600,0)" d="M0,0 H5 L1.5,10"/><path vector-effect="non-scaling-stroke" transform="translate(88.600,0)" d="M2.5,4.6 C1,4.6 0.3,3.6 0.3,2.3 C0.3,1 1.2,0 2.5,0 C3.8,0 4.7,1 4.7,2.3 C4.7,3.6 4,4.6 2.5,4.6 C4,4.6 5,5.8 5,7.3 C5,9 4,10 2.5,10 C1,10 0,9 0,7.3 C0,5.8 1,4.6 2.5,4.6 Z"/><path vector-effect="non-scaling-stroke" transform="translate(96.600,0)" d="M0.4,9.3 V10"/><path vector-effect="non-scaling-stroke" transform="translate(100.400,0)" d="M0,3 L3,0 V10"/><path vector-effect="non-scaling-stroke" transform="translate(106.400,0)" d="M0,3 L3,0 V10"/><path vector-effect="non-scaling-stroke" transform="translate(112.400,0)" d="M0,6 H4"/><path vector-effect="non-scaling-stroke" transform="translate(119.400,0)" d="M2.5,0 C4,0 5,1 5,2.5 V7.5 C5,9 4,10 2.5,10 C1,10 0,9 0,7.5 V2.5 C0,1 1,0 2.5,0 Z"/><path vector-effect="non-scaling-stroke" transform="translate(127.400,0)" d="M0,3 L3,0 V10"/></g>
<g transform="translate(343.40,996.50) rotate(0) translate(0.00,0) skewX(-15) scale(1.8674,1.9400) translate(0,-10)" fill="none" stroke="#111" stroke-width="1.12" stroke-linecap="round" stroke-linejoin="round" style="vector-effect:non-scaling-stroke"><path vector-effect="non-scaling-stroke" transform="translate(0.000,0)" d="M5,2 C5,0.8 4,0 2.6,0 C1,0 0,1.2 0,3 V7.5 C0,9 1,10 2.5,10 C4,10 5,9 5,7.2 C5,5.4 4,4.4 2.5,4.4 C1,4.4 0,5.4 0,7"/><path vector-effect="non-scaling-stroke" transform="translate(7.000,0)" d="M5,2 C5,0.8 4,0 2.6,0 C1,0 0,1.2 0,3 V7.5 C0,9 1,10 2.5,10 C4,10 5,9 5,7.2 C5,5.4 4,4.4 2.5,4.4 C1,4.4 0,5.4 0,7"/><path vector-effect="non-scaling-stroke" transform="translate(14.000,0)" d="M0,0 H5 L1.5,10"/></g>
<g transform="translate(415.20,996.50) rotate(0) translate(0.00,0) skewX(-15) scale(1.7253,1.9400) translate(0,-10)" fill="none" stroke="#111" stroke-width="1.12" stroke-linecap="round" stroke-linejoin="round" style="vector-effect:non-scaling-stroke"><path vector-effect="non-scaling-stroke" transform="translate(0.000,0)" d="M0.3,0 H5 L2.3,4.2 C4,4.2 5,5.4 5,7.2 C5,9 4,10 2.5,10 C1,10 0,9 0,7.8"/><path vector-effect="non-scaling-stroke" transform="translate(7.000,0)" d="M5,2 C5,0.8 4,0 2.6,0 C1,0 0,1.2 0,3 V7.5 C0,9 1,10 2.5,10 C4,10 5,9 5,7.2 C5,5.4 4,4.4 2.5,4.4 C1,4.4 0,5.4 0,7"/><path vector-effect="non-scaling-stroke" transform="translate(14.000,0)" d="M0,2.5 C0,1 1,0 2.5,0 C4,0 5,1 5,2.5 C5,4 4.2,5 3.2,6.2 L0,10 H5"/></g>
<g transform="translate(487.70,996.50) rotate(0) translate(0.00,0) skewX(-15) scale(1.7095,1.9400) translate(0,-10)" fill="none" stroke="#111" stroke-width="1.12" stroke-linecap="round" stroke-linejoin="round" style="vector-effect:non-scaling-stroke"><path vector-effect="non-scaling-stroke" transform="translate(0.000,0)" d="M0,2.5 C0,1 1,0 2.5,0 C4,0 5,1 5,2.5 C5,4 4.2,5 3.2,6.2 L0,10 H5"/><path vector-effect="non-scaling-stroke" transform="translate(7.000,0)" d="M0,0 H5 L1.5,10"/><path vector-effect="non-scaling-stroke" transform="translate(14.000,0)" d="M2.5,4.6 C1,4.6 0.3,3.6 0.3,2.3 C0.3,1 1.2,0 2.5,0 C3.8,0 4.7,1 4.7,2.3 C4.7,3.6 4,4.6 2.5,4.6 C4,4.6 5,5.8 5,7.3 C5,9 4,10 2.5,10 C1,10 0,9 0,7.3 C0,5.8 1,4.6 2.5,4.6 Z"/></g>
<g transform="translate(566.80,996.50) rotate(0) translate(0.00,0) skewX(-15) scale(1.5817,1.9400) translate(0,-10)" fill="none" stroke="#111" stroke-width="1.12" stroke-linecap="round" stroke-linejoin="round" style="vector-effect:non-scaling-stroke"><path vector-effect="non-scaling-stroke" transform="translate(0.000,0)" d="M0.3,0 H5 L2.3,4.2 C4,4.2 5,5.4 5,7.2 C5,9 4,10 2.5,10 C1,10 0,9 0,7.8"/><path vector-effect="non-scaling-stroke" transform="translate(7.000,0)" d="M0.3,0 H5 L2.3,4.2 C4,4.2 5,5.4 5,7.2 C5,9 4,10 2.5,10 C1,10 0,9 0,7.8"/></g>
<g transform="translate(213.90,1020.90) rotate(0) translate(0.00,0) skewX(-15) scale(0.8019,1.8600) translate(0,-10)" fill="none" stroke="#111" stroke-width="1.15" stroke-linecap="round" stroke-linejoin="round" style="vector-effect:non-scaling-stroke"><path vector-effect="non-scaling-stroke" transform="translate(0.000,0)" d="M0,0 V10 H5 V0 M5,10 H5.8 V11.4"/><path vector-effect="non-scaling-stroke" transform="translate(8.800,0)" d="M0,10 V0 H4.5"/><path vector-effect="non-scaling-stroke" transform="translate(16.300,0)" d="M0,6 H4"/><path vector-effect="non-scaling-stroke" transform="translate(23.300,0)" d="M0,3 L3,0 V10"/><path vector-effect="non-scaling-stroke" transform="translate(29.300,0)" d="M2.5,0 C4,0 5,1 5,2.5 V7.5 C5,9 4,10 2.5,10 C1,10 0,9 0,7.5 V2.5 C0,1 1,0 2.5,0 Z"/><path vector-effect="non-scaling-stroke" transform="translate(37.300,0)" d="M2.5,0 C4,0 5,1 5,2.5 V7.5 C5,9 4,10 2.5,10 C1,10 0,9 0,7.5 V2.5 C0,1 1,0 2.5,0 Z"/><path vector-effect="non-scaling-stroke" transform="translate(45.300,0)" d="M0.4,9.3 V10"/><path vector-effect="non-scaling-stroke" transform="translate(49.100,0)" d="M4.8,0 H0.5 L0.2,4.4 C1,3.8 1.8,3.6 2.7,3.6 C4,3.6 5,4.8 5,6.8 C5,8.8 4,10 2.5,10 C1,10 0,9 0,7.8"/><path vector-effect="non-scaling-stroke" transform="translate(57.100,0)" d="M2.5,0 C4,0 5,1 5,2.5 V7.5 C5,9 4,10 2.5,10 C1,10 0,9 0,7.5 V2.5 C0,1 1,0 2.5,0 Z"/><path vector-effect="non-scaling-stroke" transform="translate(65.100,0)" d="M0,3 L4.5,10 M4.5,3 L0,10"/><path vector-effect="non-scaling-stroke" transform="translate(72.600,0)" d="M0.3,0 H5 L2.3,4.2 C4,4.2 5,5.4 5,7.2 C5,9 4,10 2.5,10 C1,10 0,9 0,7.8"/><path vector-effect="non-scaling-stroke" transform="translate(80.600,0)" d="M0,0 H5 L1.5,10"/><path vector-effect="non-scaling-stroke" transform="translate(88.600,0)" d="M4.8,0 H0.5 L0.2,4.4 C1,3.8 1.8,3.6 2.7,3.6 C4,3.6 5,4.8 5,6.8 C5,8.8 4,10 2.5,10 C1,10 0,9 0,7.8"/><path vector-effect="non-scaling-stroke" transform="translate(96.600,0)" d="M0.4,9.3 V10"/><path vector-effect="non-scaling-stroke" transform="translate(100.400,0)" d="M0,3 L3,0 V10"/><path vector-effect="non-scaling-stroke" transform="translate(106.400,0)" d="M0,3 L3,0 V10"/><path vector-effect="non-scaling-stroke" transform="translate(112.400,0)" d="M0,6 H4"/><path vector-effect="non-scaling-stroke" transform="translate(119.400,0)" d="M2.5,0 C4,0 5,1 5,2.5 V7.5 C5,9 4,10 2.5,10 C1,10 0,9 0,7.5 V2.5 C0,1 1,0 2.5,0 Z"/><path vector-effect="non-scaling-stroke" transform="translate(127.400,0)" d="M0,3 L3,0 V10"/></g>
<g transform="translate(347.50,1020.90) rotate(0) translate(0.00,0) skewX(-15) scale(1.3717,1.8600) translate(0,-10)" fill="none" stroke="#111" stroke-width="1.12" stroke-linecap="round" stroke-linejoin="round" style="vector-effect:non-scaling-stroke"><path vector-effect="non-scaling-stroke" transform="translate(0.000,0)" d="M0,0 H5 L1.5,10"/><path vector-effect="non-scaling-stroke" transform="translate(7.000,0)" d="M5,2 C5,0.8 4,0 2.6,0 C1,0 0,1.2 0,3 V7.5 C0,9 1,10 2.5,10 C4,10 5,9 5,7.2 C5,5.4 4,4.4 2.5,4.4 C1,4.4 0,5.4 0,7"/><path vector-effect="non-scaling-stroke" transform="translate(14.000,0)" d="M4,10 V0 L0,7 H5"/></g>
<g transform="translate(416.50,1020.90) rotate(0) translate(0.00,0) skewX(-15) scale(1.6665,1.8600) translate(0,-10)" fill="none" stroke="#111" stroke-width="1.12" stroke-linecap="round" stroke-linejoin="round" style="vector-effect:non-scaling-stroke"><path vector-effect="non-scaling-stroke" transform="translate(0.000,0)" d="M4,10 V0 L0,7 H5"/><path vector-effect="non-scaling-stroke" transform="translate(7.000,0)" d="M4.8,0 H0.5 L0.2,4.4 C1,3.8 1.8,3.6 2.7,3.6 C4,3.6 5,4.8 5,6.8 C5,8.8 4,10 2.5,10 C1,10 0,9 0,7.8"/><path vector-effect="non-scaling-stroke" transform="translate(14.000,0)" d="M0,8 C0,9.2 1,10 2.4,10 C4,10 5,8.8 5,7 V2.5 C5,1 4,0 2.5,0 C1,0 0,1 0,2.8 C0,4.6 1,5.6 2.5,5.6 C4,5.6 5,4.6 5,3"/></g>
<g transform="translate(488.20,1020.90) rotate(0) translate(0.00,0) skewX(-15) scale(1.5191,1.8600) translate(0,-10)" fill="none" stroke="#111" stroke-width="1.12" stroke-linecap="round" stroke-linejoin="round" style="vector-effect:non-scaling-stroke"><path vector-effect="non-scaling-stroke" transform="translate(0.000,0)" d="M0.3,0 H5 L2.3,4.2 C4,4.2 5,5.4 5,7.2 C5,9 4,10 2.5,10 C1,10 0,9 0,7.8"/><path vector-effect="non-scaling-stroke" transform="translate(7.000,0)" d="M0,0 H5 L1.5,10"/><path vector-effect="non-scaling-stroke" transform="translate(14.000,0)" d="M4.8,0 H0.5 L0.2,4.4 C1,3.8 1.8,3.6 2.7,3.6 C4,3.6 5,4.8 5,6.8 C5,8.8 4,10 2.5,10 C1,10 0,9 0,7.8"/></g>
<g transform="translate(565.40,1020.90) rotate(0) translate(0.00,0) skewX(-15) scale(1.6052,1.8600) translate(0,-10)" fill="none" stroke="#111" stroke-width="1.12" stroke-linecap="round" stroke-linejoin="round" style="vector-effect:non-scaling-stroke"><path vector-effect="non-scaling-stroke" transform="translate(0.000,0)" d="M0.3,0 H5 L2.3,4.2 C4,4.2 5,5.4 5,7.2 C5,9 4,10 2.5,10 C1,10 0,9 0,7.8"/><path vector-effect="non-scaling-stroke" transform="translate(7.000,0)" d="M2.5,4.6 C1,4.6 0.3,3.6 0.3,2.3 C0.3,1 1.2,0 2.5,0 C3.8,0 4.7,1 4.7,2.3 C4.7,3.6 4,4.6 2.5,4.6 C4,4.6 5,5.8 5,7.3 C5,9 4,10 2.5,10 C1,10 0,9 0,7.3 C0,5.8 1,4.6 2.5,4.6 Z"/></g>
<text class="tt" transform="translate(134.5,57.2) scale(1.2,1)" textLength="201.6" lengthAdjust="spacing">ГИДРОЦИЛИНДР</text>
<text class="tt" transform="translate(386.2,57.2) scale(1.06,1)" textLength="37.1" lengthAdjust="spacing">ЦГ</text>
<text class="tt" x="430.0" y="57.2" textLength="194.0" lengthAdjust="spacing">-100.50xS.11-01.</text>
<text class="sp" transform="translate(468.2,107.9) scale(1.06,1)" textLength="126.8" lengthAdjust="spacing">Диаметр поршня</text>
<text class="sp" transform="translate(632.6,107.9) scale(1.06,1)" textLength="50.6" lengthAdjust="spacing">100 мм</text>
<text class="sp" transform="translate(468.2,126.2) scale(1.06,1)" textLength="114.6" lengthAdjust="spacing">Диаметр штока</text>
<text class="sp" transform="translate(632.6,126.2) scale(1.06,1)" textLength="37.7" lengthAdjust="spacing">50мм</text>
<text class="sp" transform="translate(468.2,144.8) scale(1.06,1)" textLength="115.3" lengthAdjust="spacing">Давление, МПа</text>
<text class="sp" transform="translate(468.2,163.3) scale(1.06,1)" textLength="98.7" lengthAdjust="spacing">номинальное</text>
<text class="sp" transform="translate(636.4,163.3) scale(1.06,1)" textLength="16.2" lengthAdjust="spacing">20</text>
<text class="sp" transform="translate(468.2,182.2) scale(1.06,1)" textLength="106.7" lengthAdjust="spacing">максимальное</text>
<text class="sp" transform="translate(636.4,182.2) scale(1.06,1)" textLength="16.2" lengthAdjust="spacing">22</text>
<text class="sp" transform="translate(468.2,201.2) scale(1.06,1)" textLength="185.3" lengthAdjust="spacing">Усилие на штоке, кН (кГ)</text>
<text class="sp" transform="translate(468.2,219.8) scale(1.06,1)" textLength="83.8" lengthAdjust="spacing">толкающее</text>
<text class="sp" transform="translate(634.6,219.8) scale(1.06,1)" textLength="126.4" lengthAdjust="spacing">117,809 (117809)</text>
<text class="sp" transform="translate(468.2,238.1) scale(1.06,1)" textLength="62.5" lengthAdjust="spacing">тянущее</text>
<text class="sp" transform="translate(634.6,238.1) scale(1.06,1)" textLength="126.4" lengthAdjust="spacing">157,079 (157079)</text>
<text class="ft" transform="translate(36.6,1061.6) scale(1.1,1)" textLength="109.6" lengthAdjust="spacing">*Пример маркировки:</text>
<text class="ft" transform="translate(36.3,1076.1) scale(1.1,1)" textLength="110.0" lengthAdjust="spacing">ЦГ-100.50х150.11-01 .</text>
<text class="ft" transform="translate(66.6,1091.4) scale(1.1,1)" textLength="25.7" lengthAdjust="spacing">18.10</text>
</svg>
</body></html>
